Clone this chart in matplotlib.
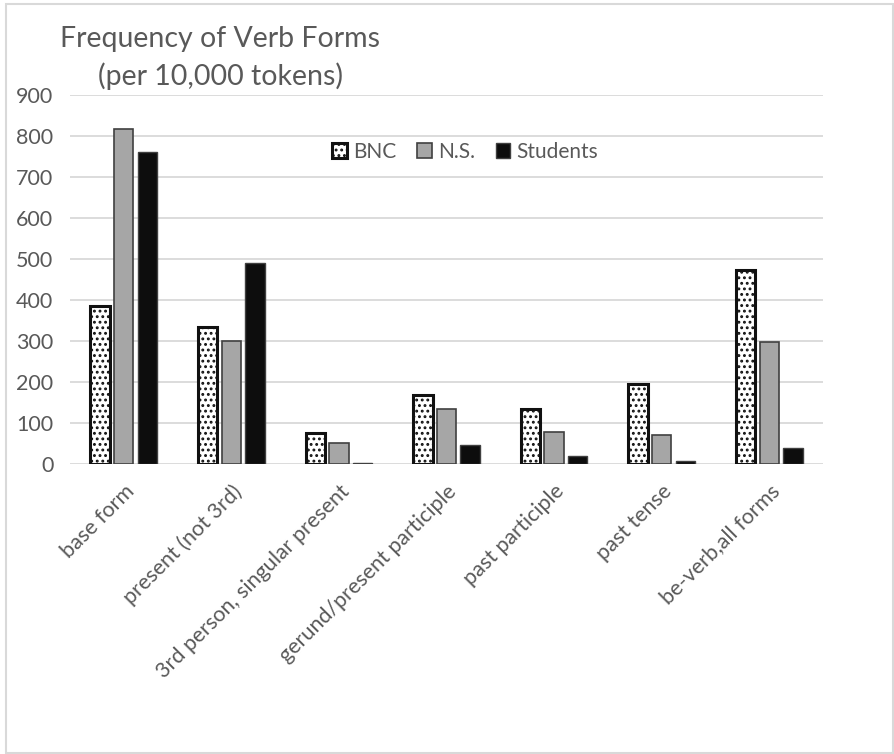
import numpy as np
import matplotlib.pyplot as plt
from matplotlib.patches import Rectangle

categories = ["base form", "present (not 3rd)", "3rd person, singular present",
              "gerund/present participle", "past participle", "past tense",
              "be-verb,all forms"]
bnc = [387, 336, 76, 168, 134, 197, 473]
ns = [817, 301, 52, 135, 80, 71, 298]
students = [762, 491, 3, 47, 21, 8, 40]
yticks = [0, 100, 200, 300, 400, 500, 600, 700, 800, 900]

plt.rcParams['font.family'] = ['Lato', 'DejaVu Sans']
plt.rcParams['hatch.linewidth'] = 1.3
plt.rcParams['hatch.color'] = '#111111'

fig = plt.figure(figsize=(8.94, 7.54), dpi=100)
ax = fig.add_axes([70/894, 1-464.3/754, 753/894, 369/754])

x = np.arange(len(categories))
w = 0.18
step = 0.22
ax.bar(x - step, bnc, w, color='white', edgecolor='#111111', linewidth=2.2,
       hatch='...', label='BNC', zorder=3)
ax.bar(x, ns, w, color='#a6a6a6', edgecolor='#404040', linewidth=1.2,
       label='N.S.', zorder=3)
ax.bar(x + step, students, w, color='#0d0d0d', edgecolor='#404040', linewidth=1.0,
       label='Students', zorder=3)

ax.set_xlim(-0.5, len(categories) - 0.5)
ax.set_ylim(0, 900)
ax.set_yticks(yticks)
ax.yaxis.grid(True, color='#d9d9d9', linewidth=1.3, zorder=0)
ax.set_axisbelow(True)
for s in ax.spines.values():
    s.set_visible(False)
ax.tick_params(axis='both', length=0, labelsize=15.5, colors='#595959')
ax.tick_params(axis='y', pad=12)
ax.set_xticks(x)
ax.set_xticklabels(categories, rotation=45, ha='right', rotation_mode='anchor')
ax.tick_params(axis='x', pad=12)

ax.legend(loc='center left', bbox_to_anchor=(254/753, (464.3-152)/369), ncol=3,
          frameon=False, fontsize=15, labelcolor='#595959', handlelength=0.7,
          handleheight=0.7, handletextpad=0.3, columnspacing=1.0,
          borderaxespad=0)

fig.text(220/894, 1-58/754, "Frequency of Verb Forms\n(per 10,000 tokens)",
         ha='center', va='center', fontsize=20.5, color='#595959', linespacing=1.45)

fig.patches.append(Rectangle((6/894, 1-753/754), 887/894, 749/754,
                             transform=fig.transFigure, fill=False,
                             edgecolor='#d9d9d9', linewidth=1.5))

fig.savefig("out.png", dpi=100)
